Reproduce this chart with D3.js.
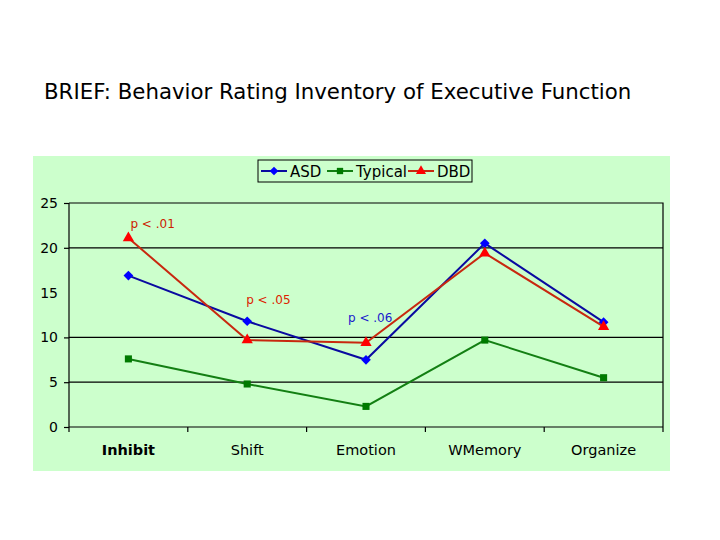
<!DOCTYPE html>
<html>
<head>
<meta charset="utf-8">
<script src="https://cdn.jsdelivr.net/npm/d3@7"></script>
<style>
  body { margin: 0; background: #fff; }
  svg { display: block; font-family: 'DejaVu Sans', Verdana, sans-serif; }
</style>
</head>
<body>
<svg id="chart" width="720" height="540"></svg>
<script>
// Datos
const categories = ['Inhibit', 'Shift', 'Emotion', 'WMemory', 'Organize'];
const asd = [16.9, 11.8, 7.5, 20.5, 11.7];
const typical = [7.6, 4.8, 2.3, 9.7, 5.5];
const dbd = [21.1, 9.7, 9.4, 19.4, 11.2];
const yTicks = [0, 5, 10, 15, 20, 25];
const gridValues = [5, 10, 20];
const noteCats = ['Inhibit', 'Shift', 'Emotion'];
const noteValues = [22.2, 13.7, 11.7];
const noteTexts = ['p < .01', 'p < .05', 'p < .06'];

const svg = d3.select('#chart');

// Título
svg.append('text')
  .attr('x', 44).attr('y', 99)
  .attr('font-size', 21.3)
  .attr('fill', '#000')
  .text('BRIEF: Behavior Rating Inventory of Executive Function');

// Fondo verde del gráfico
svg.append('rect')
  .attr('x', 33).attr('y', 156)
  .attr('width', 637).attr('height', 315)
  .attr('fill', '#ccffcc');

const plot = { left: 69, right: 663, top: 203, bottom: 427 };

const x = d3.scaleBand().domain(categories).range([plot.left, plot.right]);
const y = d3.scaleLinear().domain([0, 25]).range([plot.bottom, plot.top]);
const cx = d => x(d) + x.bandwidth() / 2;

// Líneas de cuadrícula
svg.append('g').selectAll('line').data(gridValues).join('line')
  .attr('x1', plot.left).attr('x2', plot.right)
  .attr('y1', d => y(d)).attr('y2', d => y(d))
  .attr('stroke', '#000').attr('stroke-width', 1.2);

// Borde del área de trazado
svg.append('path')
  .attr('d', `M${plot.left},${plot.top}H${plot.right}V${plot.bottom}`)
  .attr('fill', 'none').attr('stroke', '#000').attr('stroke-width', 1.2);

// Eje Y
const yAxis = svg.append('g')
  .attr('transform', `translate(${plot.left},0)`)
  .call(d3.axisLeft(y).tickValues(yTicks).tickSize(5).tickPadding(6));
yAxis.select('.domain').attr('stroke', '#000').attr('stroke-width', 1.2).attr('d', `M0,${plot.top}V${plot.bottom}`);
yAxis.selectAll('.tick line').attr('stroke-width', 1.2).filter(d => d === 15).remove();
yAxis.selectAll('.tick text').attr('font-size', 14).attr('font-family', 'DejaVu Sans').attr('fill', '#000');

// Eje X
const xAxis = svg.append('g')
  .attr('transform', `translate(0,${plot.bottom})`)
  .call(d3.axisBottom(x).tickSize(0).tickPadding(18));
xAxis.select('.domain').attr('stroke', '#000').attr('stroke-width', 1.2).attr('d', `M${plot.left},0H${plot.right}`);
xAxis.selectAll('.tick text')
  .attr('font-size', 14.5).attr('font-family', 'DejaVu Sans').attr('fill', '#000')
  .attr('font-weight', d => d === 'Inhibit' ? 'bold' : 'normal');
const boundaries = categories.map(c => x(c)).concat([plot.right]);
xAxis.selectAll('.sep').data(boundaries).join('line')
  .attr('class', 'sep')
  .attr('x1', d => d).attr('x2', d => d)
  .attr('y1', 0).attr('y2', 5)
  .attr('stroke', '#000').attr('stroke-width', 1.2);

// Series
const series = [
  { name: 'ASD', values: asd, line: '#0a0aa0', fill: '#0000ff', shape: d3.symbolDiamond2, size: 60 },
  { name: 'Typical', values: typical, line: '#137f13', fill: '#007a00', shape: d3.symbolSquare, size: 50 },
  { name: 'DBD', values: dbd, line: '#c8280f', fill: '#ff0000', shape: d3.symbolTriangle, size: 55 }
];

const line = d3.line().x((d, i) => cx(categories[i])).y(d => y(d));

series.forEach(s => {
  svg.append('path')
    .datum(s.values)
    .attr('d', line)
    .attr('fill', 'none')
    .attr('stroke', s.line)
    .attr('stroke-width', 2);
  svg.append('g').selectAll('path').data(s.values).join('path')
    .attr('transform', (d, i) => `translate(${cx(categories[i])},${y(d)})`)
    .attr('d', d3.symbol().type(s.shape).size(s.size))
    .attr('fill', s.fill);
});

// Anotaciones
const noteDx = [2, -1, -18];
const noteColors = ['#cc2200', '#dd2200', '#1a1acc'];
svg.append('g').selectAll('text').data(noteTexts).join('text')
  .attr('x', (d, i) => cx(noteCats[i]) + noteDx[i])
  .attr('y', (d, i) => y(noteValues[i]))
  .attr('font-size', 12)
  .attr('fill', (d, i) => noteColors[i])
  .text(d => d);

// Leyenda
const legend = svg.append('g');
legend.append('rect')
  .attr('x', 258).attr('y', 160).attr('width', 214).attr('height', 22)
  .attr('fill', '#ccffcc').attr('stroke', '#000').attr('stroke-width', 1);
const legendX = [261, 327, 408];
series.forEach((s, i) => {
  const g = legend.append('g').attr('transform', `translate(${legendX[i]},171)`);
  g.append('line').attr('x1', 0).attr('x2', 26).attr('stroke', s.line).attr('stroke-width', 2);
  g.append('path').attr('transform', 'translate(13,0)')
    .attr('d', d3.symbol().type(s.shape).size(s.size * 0.8)).attr('fill', s.fill);
  g.append('text').attr('x', 29).attr('y', 5.5)
    .attr('font-size', 15).attr('fill', '#000').text(s.name);
});
</script>
</body>
</html>
